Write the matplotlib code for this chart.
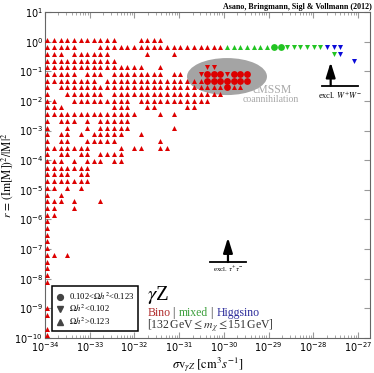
import matplotlib
matplotlib.use("Agg")
import matplotlib.pyplot as plt
from matplotlib.patches import Ellipse
from matplotlib.lines import Line2D

# ---------------- data ----------------
# grid of log10(sigma v) column positions
sigma_exp = [-33.95, -33.80, -33.65, -33.50, -33.35, -33.20, -33.06, -32.91, -32.76, -32.61,
             -32.46, -32.31, -32.16, -32.01, -31.86, -31.72, -31.57, -31.42, -31.27, -31.12,
             -30.97, -30.82, -30.67, -30.52, -30.37, -30.23, -30.08, -29.93, -29.78, -29.63,
             -29.48, -29.33, -29.18, -29.03, -28.88, -28.73, -28.59, -28.44, -28.29, -28.14,
             -27.99, -27.84, -27.69, -27.54, -27.39, -27.24, -27.09]
# grid of log10(r) row positions (top to bottom)
r_exp = [0.04, -0.19, -0.41, -0.64, -0.86, -1.09, -1.32, -1.54, -1.77, -1.99,
         -2.22, -2.45, -2.67, -2.90, -3.12, -3.35, -3.58, -3.80, -4.03, -4.25,
         -4.48, -4.71, -4.93, -5.16, -5.38, -5.61, -5.84, -6.06, -6.29, -6.51,
         -6.74, -6.97, -7.19, -7.42, -7.64, -7.87, -8.10, -8.32, -8.55, -8.77,
         -9.00, -9.23, -9.45, -9.68, -9.90]

# Bino, Omega h^2 > 0.123 (up triangles): occupied columns per row
bino_up = ["0-10,14-17", "0-4,8-26", "0-2,4-9,15,19", "0-10", "0-14,17",
           "0-4,6-8,10-17,19-20", "0-7,9-23", "0,2-26,28-29", "0,3-8,10-26", "0-1,4-12,14-24",
           "0-2,10-12,15-16,21-22", "0-13,17,19", "0,2-4,6,8-12", "0,3,6,8-12,19", "0,2-3,5,7-11,14",
           "0,2-3,6-10,17", "0-6,11,13-14,17-18", "0,2-3,5-6,8-11", "0-2,4,6-8,10-11", "0-6",
           "0-3,5-6", "0-6", "0-1,3,5", "0,2", "0-2,4,8",
           "0-1,4", "0-1", "0", "0", "0",
           "0", "0", "0-1,3", "0", "0",
           "0", "0", "", "", "",
           "0", "0", "", "0", "0"]
# other classes: {row: columns}
bino_down = {4: "24-25", 5: "23,27"}
bino_circ = {5: "24-26,28-30", 6: "24-30", 7: "27"}
mixed_up = {1: "27-33"}
mixed_circ = {1: "34-35"}
mixed_down = {1: "36-41", 2: "43"}
higgsino_down = {1: "42-44", 2: "44", 3: "46"}

x_tick_exp = [-34, -33, -32, -31, -30, -29, -28, -27]
y_tick_exp = [-10, -9, -8, -7, -6, -5, -4, -3, -2, -1, 0, 1]


def parse(s):
    out = []
    for part in s.split(","):
        part = part.strip()
        if not part:
            continue
        if "-" in part:
            a, b = part.split("-")
            out.extend(range(int(a), int(b) + 1))
        else:
            out.append(int(part))
    return out


def points(rowmap):
    xs, ys = [], []
    for j, s in rowmap.items():
        for i in parse(s):
            xs.append(10 ** sigma_exp[i])
            ys.append(10 ** r_exp[j])
    return xs, ys


RED, GREEN, BLUE = "#dd0000", "#22c422", "#0a0ad8"
SERIF = ["Liberation Serif", "DejaVu Serif"]

fig = plt.figure(figsize=(3.74, 3.73), dpi=100)
ax = fig.add_axes([0.1203, 0.0938, 0.869, 0.874])
ax.set_xscale("log")
ax.set_yscale("log")
ax.set_xlim(1e-34, 10 ** -26.73)
ax.set_ylim(1e-10, 10)

# cMSSM ellipse
ax.add_patch(Ellipse((0.56, 0.802), 0.246, 0.1135, transform=ax.transAxes,
                     facecolor="#a4a4a4", edgecolor="none", zorder=1))

tri_s, circ_s = 13, 24
x, y = points({j: s for j, s in enumerate(bino_up)})
ax.scatter(x, y, marker="^", s=tri_s, color=RED, linewidths=0, zorder=3)
x, y = points(bino_down)
ax.scatter(x, y, marker="v", s=tri_s, color=RED, linewidths=0, zorder=3)
x, y = points(bino_circ)
ax.scatter(x, y, marker="o", s=circ_s, color=RED, linewidths=0, zorder=3)
x, y = points(mixed_up)
ax.scatter(x, y, marker="^", s=tri_s, color=GREEN, linewidths=0, zorder=3)
x, y = points(mixed_circ)
ax.scatter(x, y, marker="o", s=circ_s, color=GREEN, linewidths=0, zorder=3)
x, y = points(mixed_down)
ax.scatter(x, y, marker="v", s=tri_s, color=GREEN, linewidths=0, zorder=3)
x, y = points(higgsino_down)
ax.scatter(x, y, marker="v", s=tri_s, color=BLUE, linewidths=0, zorder=3)

# ticks
ax.set_xticks([10.0 ** e for e in x_tick_exp])
ax.set_yticks([10.0 ** e for e in y_tick_exp])
ax.tick_params(which="both", direction="in", top=True, right=True, color="#999999")
ax.tick_params(which="major", length=4, labelsize=7, pad=1.5)
ax.tick_params(which="minor", length=2)
for sp in ax.spines.values():
    sp.set_color("#666666")
    sp.set_linewidth(0.8)

ax.set_xlabel(r"$\sigma\mathrm{v}_{\gamma Z}\ [\mathrm{cm}^3 s^{-1}]$", fontsize=9,
              math_fontfamily="stix", labelpad=1)
ax.set_ylabel(r"$r\,=\,(\mathrm{Im[M]})^2/|\mathrm{M}|^2$", fontsize=8.3,
              math_fontfamily="stix")
ax.yaxis.set_label_coords(-0.093, 0.5)

# credit
fig.text(0.995, 0.993, "Asano, Bringmann, Sigl & Vollmann (2012)", ha="right", va="top",
         fontsize=5.8, fontweight="bold", family=SERIF)

# cMSSM labels
ax.text(0.698, 0.761, "cMSSM", transform=ax.transAxes, ha="center", va="center",
        fontsize=8.5, color="#a8a8a8", family=SERIF)
ax.text(0.695, 0.733, "coannihilation", transform=ax.transAxes, ha="center", va="center",
        fontsize=7, color="#a8a8a8", family=SERIF)

# exclusion arrows
ax.plot([0.852, 0.963], [0.774, 0.774], transform=ax.transAxes, color="black", lw=1.3,
        clip_on=False, zorder=4)
ax.annotate("", xy=(0.879, 0.846), xytext=(0.879, 0.774), xycoords="axes fraction",
            arrowprops=dict(arrowstyle="-|>,head_length=0.9,head_width=0.28",
                            color="black", lw=1.6, shrinkA=0, shrinkB=0))
ax.text(0.908, 0.746, r"excl. $W^{+}W^{-}$", transform=ax.transAxes, ha="center", va="center",
        fontsize=6, family=SERIF, math_fontfamily="stix")

ax.plot([0.508, 0.618], [0.233, 0.233], transform=ax.transAxes, color="black", lw=1.3, zorder=4)
ax.annotate("", xy=(0.563, 0.308), xytext=(0.563, 0.233), xycoords="axes fraction",
            arrowprops=dict(arrowstyle="-|>,head_length=0.9,head_width=0.28",
                            color="black", lw=1.6, shrinkA=0, shrinkB=0))
ax.text(0.563, 0.211, r"excl. $\tau^{+}\tau^{-}$", transform=ax.transAxes, ha="center",
        va="center", fontsize=5, family=SERIF, math_fontfamily="stix")

# annotation block
ax.text(0.315, 0.132, r"$\gamma$Z", transform=ax.transAxes, ha="left", va="center",
        fontsize=15, family=SERIF, math_fontfamily="stix")
t1 = ax.text(0.315, 0.077, "Bino", transform=ax.transAxes, ha="left", va="center",
             fontsize=8.5, color="#b02a2a", family=SERIF)
t2 = ax.annotate(" | ", xy=(1, 0.5), xycoords=t1, ha="left", va="center",
                 fontsize=8.5, color="#333333", family=SERIF)
t3 = ax.annotate("mixed", xy=(1, 0.5), xycoords=t2, ha="left", va="center",
                 fontsize=8.5, color="#3a9e3a", family=SERIF)
t4 = ax.annotate(" | ", xy=(1, 0.5), xycoords=t3, ha="left", va="center",
                 fontsize=8.5, color="#333333", family=SERIF)
ax.annotate("Higgsino", xy=(1, 0.5), xycoords=t4, ha="left", va="center",
            fontsize=8.5, color="#2a2a9a", family=SERIF)
ax.text(0.315, 0.036, r"[132$\,$GeV$\leq m_\chi\leq$151$\,$GeV]", transform=ax.transAxes,
        ha="left", va="center", fontsize=8.5, color="#333333", family=SERIF,
        math_fontfamily="stix")

# legend
handles = [Line2D([], [], ls="none", marker="o", color="#444444", markersize=4.2),
           Line2D([], [], ls="none", marker="v", color="#444444", markersize=3.8),
           Line2D([], [], ls="none", marker="^", color="#444444", markersize=3.8)]
labels = [r"0.102<$\Omega h^2$<0.123", r"$\Omega h^2$<0.102", r"$\Omega h^2$>0.123"]
leg = ax.legend(handles, labels, loc="lower left", bbox_to_anchor=(0.0215, 0.0215),
                borderaxespad=0, fancybox=False, edgecolor="black", framealpha=1,
                prop={"family": SERIF, "size": 6.2, "math_fontfamily": "stix"},
                handlelength=1.0, handletextpad=0.5, labelspacing=0.15, borderpad=0.45)
leg.get_frame().set_linewidth(1.1)
leg.set_zorder(5)

fig.savefig("out.png", dpi=100)
